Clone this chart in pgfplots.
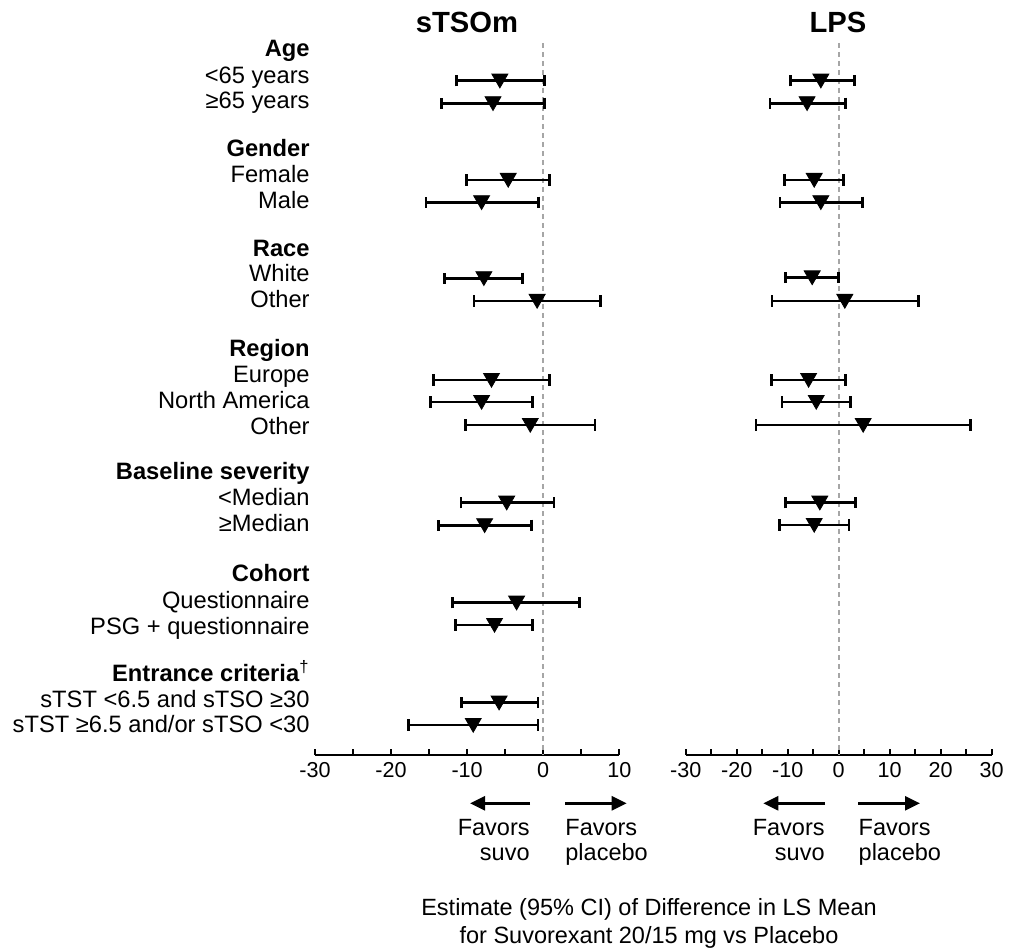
\documentclass[border=0pt]{standalone}
\usepackage{fontspec}
\setmainfont{Liberation Sans}
\usepackage{pgfplots}
\usepackage{pgfplotstable}
\pgfplotsset{compat=1.18}
\usetikzlibrary{arrows.meta}

\pgfplotstableread{
y est lo hi
-80.7 -5.7 -11.4 0.2
-103.3 -6.6 -13.4 0.2
-180 -4.6 -10.1 0.8
-202.3 -8.1 -15.4 -0.6
-278.3 -7.8 -13.0 -2.7
-301 -0.8 -9.1 7.5
-380 -6.8 -14.4 0.8
-402 -8.1 -14.8 -1.4
-425 -1.7 -10.2 6.8
-502.7 -4.8 -10.8 1.4
-525.3 -7.7 -13.8 -1.5
-602.7 -3.5 -11.9 4.8
-625 -6.4 -11.5 -1.4
-702.7 -5.8 -10.7 -0.7
-725 -9.2 -17.7 -0.7
}\lefttab

\pgfplotstableread{
y est lo hi
-80.7 -3.5 -9.5 3.1
-103.3 -6.2 -13.5 1.4
-180 -4.8 -10.6 0.9
-202.3 -3.5 -11.5 4.6
-277.5 -5.2 -10.5 -0.1
-301 1.2 -13.1 15.6
-380 -5.9 -13.2 1.4
-402 -4.4 -11.1 2.3
-425 4.8 -16.2 25.9
-502.7 -3.7 -10.5 3.3
-525 -4.8 -11.6 2.0
}\righttab

\pgfplotsset{
  forest/.style={
    scale only axis, height=356pt,
    ymin=-755, ymax=-43,
    axis x line*=bottom,
    clip=false,
    axis line style={line width=1pt, black},
    tick style={line width=1pt, black},
    tick align=inside, major tick length=3pt,
    xticklabel style={font=\fontsize{10.8}{12}\selectfont},
  },
  ci/.style={only marks, black, mark=triangle*, mark size=4.6pt,
    mark options={yshift=1pt, rotate=180, fill=black, draw=black},
    error bars/.cd, x dir=both, x explicit,
    error bar style={line width=1.35pt, black},
    error mark options={rotate=90, line width=1.35pt, mark size=2.8pt, black}},
}

\begin{document}
\begin{tikzpicture}
\path[use as bounding box] (-157.5pt,-97pt) rectangle (348pt,377.5pt);

\begin{axis}[forest,
  at={(0pt,0pt)}, anchor=south west,
  width=152.15pt,
  xmin=-30, xmax=10,
  xtick={-30,-25,...,10},
  xticklabels={-30,,-20,,-10,,0,,10},
  axis y line*=left, y axis line style={draw=none},
  ytick={-48.3,-75,-100,-148.3,-174,-200,-248.3,-273,-299,-348.3,-374,-400,-426,-471,-497.3,-523.3,-573.3,-600,-626,-673.3,-699.3,-724.3},
  yticklabels={\textbf{Age},{<65 years},{≥65 years},\textbf{Gender},Female,Male,\textbf{Race},White,Other,\textbf{Region},Europe,North America,Other,\textbf{Baseline severity},{<Median},{≥Median},\textbf{Cohort},Questionnaire,{PSG + questionnaire},{\textbf{Entrance criteria}\textsuperscript{†}},{sTST <6.5 and sTSO ≥30},{sTST ≥6.5 and/or sTSO <30}},
  ytick style={draw=none},
  yticklabel style={anchor=mid east, inner sep=0pt, xshift=-2.5pt, yshift=-1.4pt, font=\fontsize{11.85}{14}\selectfont},
]
\addplot[gray!70, line width=0.8pt, dash pattern=on 2.5pt off 2pt] coordinates {(0,-43) (0,-755)};
\addplot[ci] table[x=est, y=y, x error plus expr=\thisrow{hi}-\thisrow{est}, x error minus expr=\thisrow{est}-\thisrow{lo}] {\lefttab};
\end{axis}

\begin{axis}[forest,
  at={(185.35pt,0pt)}, anchor=south west,
  width=153pt,
  xmin=-30, xmax=30,
  xtick={-30,-25,...,30},
  xticklabels={-30,,-20,,-10,,0,,10,,20,,30},
  axis y line=none,
]
\addplot[gray!70, line width=0.8pt, dash pattern=on 2.5pt off 2pt] coordinates {(0,-43) (0,-755)};
\addplot[ci] table[x=est, y=y, x error plus expr=\thisrow{hi}-\thisrow{est}, x error minus expr=\thisrow{est}-\thisrow{lo}] {\righttab};
\end{axis}

% titles
\node[font=\bfseries\fontsize{14.6}{16}\selectfont] at (76pt,366.5pt) {sTSOm};
\node[font=\bfseries\fontsize{14.6}{16}\selectfont] at (261.5pt,366.5pt) {LPS};

% favors arrows and text
\begin{scope}[line width=1.2pt, -{Triangle[length=7.5pt,width=7pt]}]
\draw (107.5pt,-24.15pt) -- (77.5pt,-24.15pt);
\draw (125pt,-24.15pt) -- (155.85pt,-24.15pt);
\draw (255pt,-24.15pt) -- (224.15pt,-24.15pt);
\draw (271.65pt,-24.15pt) -- (302.5pt,-24.15pt);
\end{scope}
\begin{scope}[every node/.style={inner sep=0pt, font=\fontsize{11.75}{13.8}\selectfont}]
\node[anchor=base east] at (107.5pt,-40pt) {Favors};
\node[anchor=base east] at (107.5pt,-52.5pt) {suvo};
\node[anchor=base west] at (125pt,-40pt) {Favors};
\node[anchor=base west] at (125pt,-52.5pt) {placebo};
\node[anchor=base east] at (255pt,-40pt) {Favors};
\node[anchor=base east] at (255pt,-52.5pt) {suvo};
\node[anchor=base west] at (271.65pt,-40pt) {Favors};
\node[anchor=base west] at (271.65pt,-52.5pt) {placebo};
\node[anchor=base] at (167pt,-80pt) {Estimate (95\% CI) of Difference in LS Mean};
\node[anchor=base] at (167pt,-94pt) {for Suvorexant 20/15 mg vs Placebo};
\end{scope}
\end{tikzpicture}
\end{document}
